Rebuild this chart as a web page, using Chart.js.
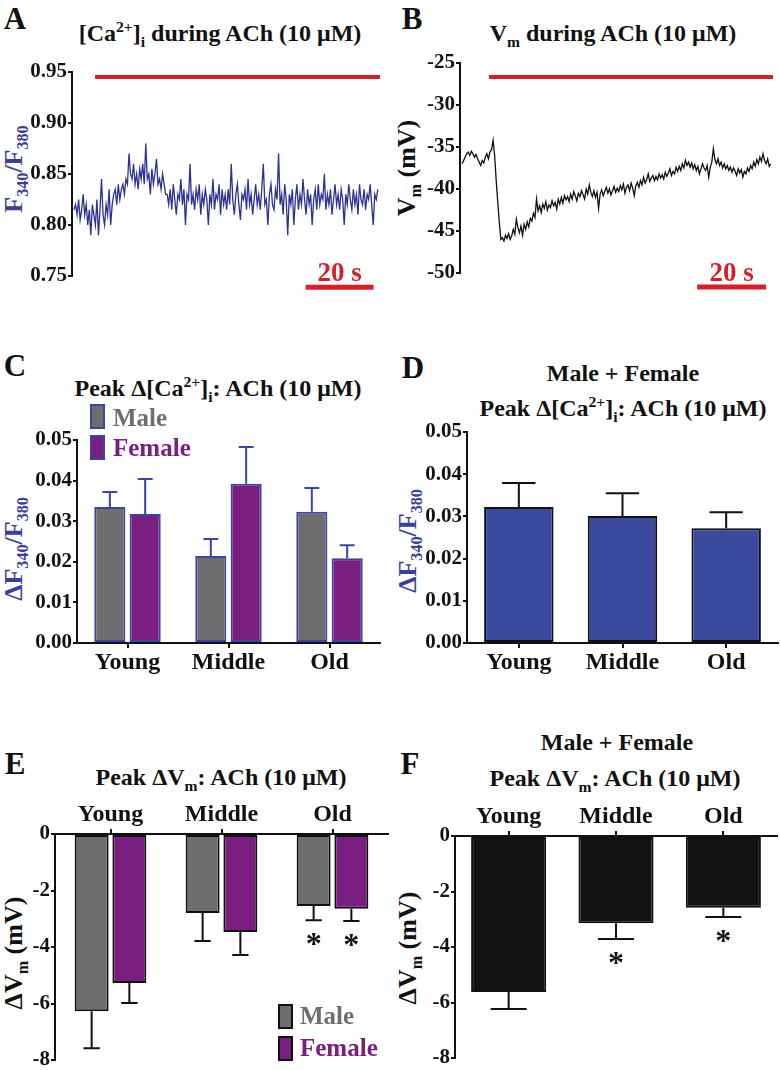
<!DOCTYPE html>
<html>
<head>
<meta charset="utf-8">
<script src="https://cdn.jsdelivr.net/npm/chart.js@4.4.1/dist/chart.umd.min.js"></script>
<style>
body { margin: 0; background: #fff; }
#fig { position: relative; width: 780px; height: 1070px; overflow: hidden; font-family: "Liberation Serif", "DejaVu Serif", serif; font-weight: bold; color: #111; }
#fig canvas { position: absolute; }
.t { position: absolute; white-space: nowrap; transform: translate(-50%, -50%); line-height: 1; font-size: 24px; }
.let { font-size: 31px; }
.ylab { position: absolute; white-space: nowrap; font-size: 26px; line-height: 1; transform: translate(-50%, -50%) rotate(-90deg); }
.blue { color: #3a3f9c; }
.t sub, .t sup { font-size: 65%; line-height: 0; }
.ylab sub { font-size: 62%; line-height: 0; }
.box { position: absolute; width: 11px; height: 21px; }
.lg { position: absolute; white-space: nowrap; transform: translateY(-50%); font-size: 25px; line-height: 1; }
</style>
</head>
<body>
<div id="fig">
  <div class="t let" style="left:15px;top:18px">A</div>
  <div class="t" style="left:220px;top:33px">[Ca<sup>2+</sup>]<sub>i</sub> during ACh (10 μM)</div>
  <div class="ylab blue" style="left:14px;top:169px">F<sub>340</sub>/F<sub>380</sub></div>
  <canvas id="chartA" width="390" height="260" style="left:0px;top:40px"></canvas>

  <div class="t let" style="left:412px;top:18px">B</div>
  <div class="t" style="left:613px;top:33px">V<sub>m</sub> during ACh (10 μM)</div>
  <div class="ylab" style="left:407px;top:168px">V<sub>m</sub> (mV)</div>
  <canvas id="chartB" width="390" height="260" style="left:390px;top:40px"></canvas>

  <div class="t let" style="left:15px;top:365px">C</div>
  <div class="t" style="left:218px;top:388px">Peak Δ[Ca<sup>2+</sup>]<sub>i</sub>: ACh (10 μM)</div>
  <div class="ylab blue" style="left:14px;top:549px">ΔF<sub>340</sub>/F<sub>380</sub></div>
  <canvas id="chartC" width="390" height="270" style="left:0px;top:410px"></canvas>
  <div class="box" style="left:90px;top:404px;background:#6e6e6e;border:2px solid #3a45a5"></div>
  <div class="lg" style="left:113px;top:417px;color:#6e6e6e">Male</div>
  <div class="box" style="left:90px;top:435px;background:#7a1e80;border:2px solid #3a45a5"></div>
  <div class="lg" style="left:113px;top:447px;color:#7a1e80">Female</div>

  <div class="t let" style="left:413px;top:367px">D</div>
  <div class="t" style="left:623px;top:373px">Male + Female</div>
  <div class="t" style="left:623px;top:408px">Peak Δ[Ca<sup>2+</sup>]<sub>i</sub>: ACh (10 μM)</div>
  <div class="ylab blue" style="left:408px;top:541px">ΔF<sub>340</sub>/F<sub>380</sub></div>
  <canvas id="chartD" width="390" height="270" style="left:390px;top:410px"></canvas>

  <div class="t let" style="left:15px;top:763px">E</div>
  <div class="t" style="left:221px;top:777px">Peak ΔV<sub>m</sub>: ACh (10 μM)</div>
  <div class="ylab" style="left:14px;top:953px">ΔV<sub>m</sub> (mV)</div>
  <canvas id="chartE" width="390" height="290" style="left:0px;top:790px"></canvas>
  <div class="box" style="left:278px;top:1004px;background:#6e6e6e;border:2px solid #111"></div>
  <div class="lg" style="left:300px;top:1015px;color:#6e6e6e">Male</div>
  <div class="box" style="left:278px;top:1036px;background:#7a1e80;border:2px solid #111"></div>
  <div class="lg" style="left:300px;top:1047px;color:#7a1e80">Female</div>

  <div class="t let" style="left:410px;top:763px">F</div>
  <div class="t" style="left:617px;top:742px">Male + Female</div>
  <div class="t" style="left:615px;top:778px">Peak ΔV<sub>m</sub>: ACh (10 μM)</div>
  <div class="ylab" style="left:408px;top:948px">ΔV<sub>m</sub> (mV)</div>
  <canvas id="chartF" width="390" height="290" style="left:390px;top:790px"></canvas>
</div>

<script>
// ---- dados ----
const dt = 0.45; // s por amostra

// A: razao F340/F380 durante ACh
const caTrace = [
  0.815,0.82,0.81,0.825,0.805,0.815,0.83,0.81,0.82,0.80,0.815,0.79,0.82,0.81,0.80,0.825,0.79,0.815,0.845,0.81,0.80,0.82,0.81,0.835,0.80,
  0.82,0.83,0.835,0.82,0.84,0.825,0.835,0.84,0.83,
  0.845,0.84,0.87,0.85,0.845,0.86,0.84,0.85,0.835,0.855,0.845,0.86,0.84,0.88,0.845,0.85,0.83,0.855,0.84,0.85,0.865,0.84,0.845,0.835,0.85,0.84,0.83,
  0.83,0.82,0.835,0.815,0.84,0.825,0.81,0.83,0.825,0.845,0.82,0.835,0.80,0.83,0.825,0.86,0.82,0.83,0.815,0.835,
  0.825,0.84,0.81,0.83,0.82,0.835,0.825,0.80,0.83,0.82,0.845,0.815,0.83,0.825,0.84,0.81,0.835,0.82,0.83,0.815,
  0.835,0.82,0.86,0.825,0.81,0.83,0.84,0.82,0.805,0.83,0.825,0.835,0.815,0.845,0.82,0.83,0.81,0.825,0.84,0.82,
  0.83,0.815,0.835,0.86,0.82,0.825,0.80,0.83,0.84,0.82,0.815,0.835,0.825,0.87,0.82,0.83,0.81,0.84,0.825,0.79,
  0.83,0.82,0.835,0.80,0.825,0.84,0.815,0.83,0.82,0.845,0.825,0.81,0.835,0.82,0.83,0.80,0.825,0.835,0.815,0.84,
  0.82,0.83,0.825,0.85,0.815,0.83,0.82,0.835,0.81,0.825,0.84,0.82,0.83,0.815,0.835,0.825,0.80,0.83,0.82,0.84,
  0.825,0.815,0.835,0.82,0.83,0.81,0.84,0.825,0.82,0.835,0.815,0.83,0.825,0.84,0.82,0.80,0.83,0.825,0.835
];
const caStimX = [6.2, 90.2];
const caStimY = 0.945;
const caScaleX = [68.3, 88.3];
const caScaleY = 0.739;

// B: Vm durante ACh
const vmTrace = [
  -37,-36.6,-36.2,-35.8,-35.6,-36,-35.5,-35.8,-36.2,-35.9,-36.4,-36.8,-37.2,-36.6,-36.9,-36.2,-35.8,-36.4,-35.6,-35.3,-34.2,-36,
  -39,-41.5,-44,-46,
  -45.8,-46.2,-45.5,-45.9,-45.3,-46,-45.6,-44.8,-45.4,-43.6,-44.6,-45.2,-44.4,-45.5,-44.2,-44.8,-43.9,-44.5,-43.5,
  -43.8,-42.9,-43.4,-41.2,-42.6,-42.0,-42.8,-41.8,-42.3,-41.5,-42.5,-41.9,-42.2,-41.4,-42.0,-41.6,-42.4,-41.2,-41.8,-41.0,-41.7,-40.8,
  -41.3,-40.9,-41.5,-40.6,-41.2,-40.3,-40.8,-41.4,-40.5,-40.9,-40.2,-40.7,-41.2,-40.0,-40.6,-39.5,-40.4,-40.9,-40.2,-41.0,-40.4,-42.3,-40.6,-40.1,-40.8,-40.3,-39.8,-40.5,-40.0,-40.7,-40.2,-39.7,-40.4,-39.9,
  -40.3,-39.6,-40.1,-39.4,-40.5,-39.8,-39.5,-40.2,-39.3,-39.9,-40.8,-39.6,-39.2,-39.8,-39.0,-39.5,-38.6,-39.3,-38.9,-38.2,
  -39.1,-38.7,-38.4,-39.0,-38.5,-38.9,-38.2,-38.7,-38.3,-38.8,-38.0,-38.5,-38.1,-37.6,-38.4,-37.9,-38.2,-37.4,-37.9,-37.3,
  -37.8,-37.0,-37.5,-36.6,-37.2,-36.8,-37.4,-36.9,-37.6,-37.1,-37.8,-37.3,-38.2,-37.6,-37.0,-37.5,-37.8,-37.2,-38.6,-37.4,
  -36.8,-35.2,-36.5,-37.0,-36.4,-37.2,-36.8,-37.5,-37.0,-37.6,
  -37.2,-37.8,-37.4,-38.0,-37.5,-37.9,-38.4,-37.6,-38.1,-37.7,-38.6,-37.9,-38.2,-37.5,-37.9,-37.2,-37.6,-36.8,-37.3,-36.5,
  -37.0,-36.2,-36.7,-35.8,-36.6,-37.0,-36.4,-37.3,-37.0
];
const vmStimX = [7.8, 90.2];
const vmStimY = -26.67;
const vmScaleX = [68.2, 88.2];
const vmScaleY = -51.67;

// C-F: grupos de idade
const grupos = ['Young', 'Middle', 'Old'];

const caMale = [0.0335, 0.0214, 0.0323];
const caMaleErr = [0.0037, 0.0042, 0.0059];
const caFemale = [0.0318, 0.0392, 0.0209];
const caFemaleErr = [0.0086, 0.0091, 0.0032];

const caAll = [0.0322, 0.0301, 0.0272];
const caAllErr = [0.0057, 0.0054, 0.0038];

const vmMale = [-6.27, -2.8, -2.55];
const vmMaleErr = [1.31, 0.99, 0.5];
const vmMaleStars = [false, false, true];
const vmFemale = [-5.27, -3.47, -2.65];
const vmFemaleErr = [0.71, 0.81, 0.43];
const vmFemaleStars = [false, false, true];

const vmAll = [-5.62, -3.14, -2.59];
const vmAllErr = [0.61, 0.57, 0.33];
const vmAllStars = [false, true, true];

// ---- estilos ----
const serif = '"Liberation Serif", "DejaVu Serif", serif';
const vermelho = '#d81e26';
const cinza = '#6e6e6e';
const roxo = '#7a1e80';
const azulBorda = '#3a45a5';

// barras de erro + asteriscos
const errorBars = {
    id: 'errorBars',
    afterDatasetsDraw(chart) {
        const ctx = chart.ctx;
        const y = chart.scales.y;
        chart.data.datasets.forEach((ds, di) => {
            if (!ds.errors) return;
            chart.getDatasetMeta(di).data.forEach((bar, i) => {
                const v = ds.data[i];
                const yEnd = y.getPixelForValue(v + Math.sign(v) * ds.errors[i]);
                const half = bar.width * 0.24;
                ctx.save();
                ctx.strokeStyle = ds.errorColor;
                ctx.lineWidth = 2;
                ctx.beginPath();
                ctx.moveTo(bar.x, bar.y);
                ctx.lineTo(bar.x, yEnd);
                ctx.moveTo(bar.x - half, yEnd);
                ctx.lineTo(bar.x + half, yEnd);
                ctx.stroke();
                if (ds.stars && ds.stars[i]) {
                    ctx.fillStyle = '#111';
                    ctx.font = 'bold 32px ' + serif;
                    ctx.textAlign = 'center';
                    ctx.textBaseline = 'alphabetic';
                    ctx.fillText('*', bar.x, yEnd + 34);
                }
                ctx.restore();
            });
        });
    }
};

// texto "20 s" sobre a barra de escala
const scaleLabel = {
    id: 'scaleLabel',
    afterDatasetsDraw(chart) {
        const ctx = chart.ctx;
        chart.data.datasets.forEach((ds, di) => {
            if (!ds.barLabel) return;
            const pts = chart.getDatasetMeta(di).data;
            ctx.save();
            ctx.fillStyle = vermelho;
            ctx.font = 'bold 27px ' + serif;
            ctx.textAlign = 'center';
            ctx.textBaseline = 'alphabetic';
            ctx.fillText(ds.barLabel, (pts[0].x + pts[pts.length - 1].x) / 2, pts[0].y - 6);
            ctx.restore();
        });
    }
};

function eixoY(largura, min, max, passo, fmt) {
    return {
        min: min,
        max: max,
        afterFit: (s) => { s.width = largura; },
        ticks: {
            stepSize: passo,
            color: '#111',
            padding: 1,
            font: { family: serif, size: 21, weight: 'bold' },
            callback: fmt
        },
        grid: { display: true, drawOnChartArea: false, drawTicks: true, tickLength: 4, color: '#111', lineWidth: 2 },
        border: { display: true, color: '#111', width: 2 }
    };
}

function eixoX(altura, pos) {
    return {
        position: pos,
        afterFit: (s) => { s.height = altura; },
        ticks: { color: '#111', padding: 0, font: { family: serif, size: 24, weight: 'bold' } },
        grid: { display: true, drawOnChartArea: false, drawTicks: true, tickLength: 5, offset: false, color: '#111', lineWidth: 2 },
        border: { display: true, color: '#111', width: 2 }
    };
}

const base = {
    responsive: false,
    animation: false,
    devicePixelRatio: 1,
    events: []
};
const semLegenda = { legend: { display: false }, tooltip: { enabled: false } };

function pontos(valores) {
    return valores.map((v, i) => ({ x: i * dt, y: v }));
}

function traco(id, valores, cor, larguraY, pad, stimX, stimY, escX, escY, yMin, yMax, yPasso, fmt) {
    new Chart(document.getElementById(id), {
        type: 'line',
        data: {
            datasets: [
                { data: pontos(valores), borderColor: cor, borderWidth: 1.3, pointRadius: 0, tension: 0 },
                { data: stimX.map(x => ({ x: x, y: stimY })), borderColor: vermelho, borderWidth: 4, pointRadius: 0, clip: false },
                { data: escX.map(x => ({ x: x, y: escY })), borderColor: vermelho, borderWidth: 5, pointRadius: 0, clip: false, barLabel: '20 s' }
            ]
        },
        options: Object.assign({}, base, {
            layout: { padding: pad },
            scales: {
                x: { type: 'linear', display: false, min: -0.6, max: 90.2 },
                y: eixoY(larguraY, yMin, yMax, yPasso, fmt)
            },
            plugins: semLegenda
        }),
        plugins: [scaleLabel]
    });
}

traco('chartA', caTrace, '#2b3195', 72, { top: 32, right: 10, bottom: 24, left: 0 },
    caStimX, caStimY, caScaleX, caScaleY, 0.75, 0.95, 0.05, (v) => v.toFixed(2));
traco('chartB', vmTrace, '#111', 70, { top: 23, right: 7, bottom: 27, left: 0 },
    vmStimX, vmStimY, vmScaleX, vmScaleY, -50, -25, 5, (v) => String(v));

// C
new Chart(document.getElementById('chartC'), {
    type: 'bar',
    data: {
        labels: grupos,
        datasets: [
            { data: caMale, errors: caMaleErr, errorColor: azulBorda, backgroundColor: cinza, borderColor: azulBorda, borderWidth: 2, borderSkipped: false },
            { data: caFemale, errors: caFemaleErr, errorColor: azulBorda, backgroundColor: roxo, borderColor: azulBorda, borderWidth: 2, borderSkipped: false }
        ]
    },
    options: Object.assign({}, base, {
        layout: { padding: { top: 30, right: 10, bottom: 0, left: 0 } },
        datasets: { bar: { categoryPercentage: 0.7, barPercentage: 0.88 } },
        scales: {
            x: eixoX(37, 'bottom'),
            y: eixoY(77, 0, 0.05, 0.01, (v) => v.toFixed(2))
        },
        plugins: semLegenda
    }),
    plugins: [errorBars]
});

// D
new Chart(document.getElementById('chartD'), {
    type: 'bar',
    data: {
        labels: grupos,
        datasets: [
            { data: caAll, errors: caAllErr, errorColor: '#111', backgroundColor: '#3c4a9e', borderColor: '#111', borderWidth: 2, borderSkipped: false }
        ]
    },
    options: Object.assign({}, base, {
        layout: { padding: { top: 22, right: 2, bottom: 0, left: 0 } },
        datasets: { bar: { categoryPercentage: 0.67, barPercentage: 1 } },
        scales: {
            x: eixoX(37, 'bottom'),
            y: eixoY(77, 0, 0.05, 0.01, (v) => v.toFixed(2))
        },
        plugins: semLegenda
    }),
    plugins: [errorBars]
});

// E
new Chart(document.getElementById('chartE'), {
    type: 'bar',
    data: {
        labels: grupos,
        datasets: [
            { data: vmMale, errors: vmMaleErr, stars: vmMaleStars, errorColor: '#111', backgroundColor: cinza, borderColor: '#111', borderWidth: 2, borderSkipped: false },
            { data: vmFemale, errors: vmFemaleErr, stars: vmFemaleStars, errorColor: '#111', backgroundColor: roxo, borderColor: '#111', borderWidth: 2, borderSkipped: false }
        ]
    },
    options: Object.assign({}, base, {
        layout: { padding: { top: 0, right: 2, bottom: 20, left: 0 } },
        datasets: { bar: { categoryPercentage: 0.68, barPercentage: 0.9 } },
        scales: {
            x: eixoX(44, 'top'),
            y: eixoY(55, -8, 0, 2, (v) => String(v))
        },
        plugins: semLegenda
    }),
    plugins: [errorBars]
});

// F
new Chart(document.getElementById('chartF'), {
    type: 'bar',
    data: {
        labels: grupos,
        datasets: [
            { data: vmAll, errors: vmAllErr, stars: vmAllStars, errorColor: '#111', backgroundColor: '#141210', borderColor: '#111', borderWidth: 2, borderSkipped: false }
        ]
    },
    options: Object.assign({}, base, {
        layout: { padding: { top: 0, right: 3, bottom: 22, left: 0 } },
        datasets: { bar: { categoryPercentage: 0.7, barPercentage: 1 } },
        scales: {
            x: eixoX(46, 'top'),
            y: eixoY(65, -8, 0, 2, (v) => String(v))
        },
        plugins: semLegenda
    }),
    plugins: [errorBars]
});
</script>
</body>
</html>
